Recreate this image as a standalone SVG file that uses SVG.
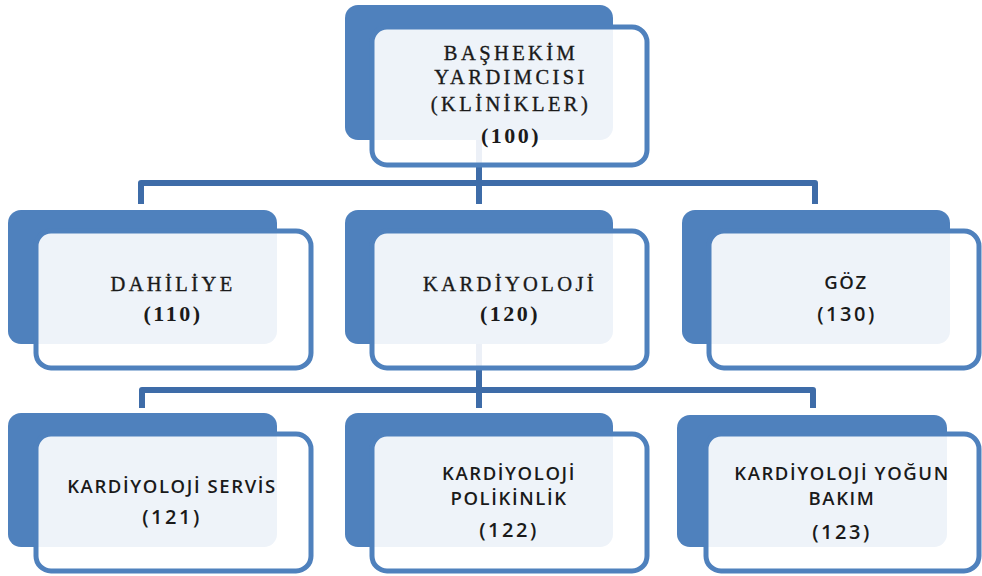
<svg xmlns="http://www.w3.org/2000/svg" width="982" height="576" viewBox="0 0 982 576">
  <style>
    .back { fill: #4f81bd; }
    .front { fill: #ffffff; fill-opacity: 0.9; stroke: #4f81bd; stroke-width: 5; }
    .conn { fill: none; stroke: #3e6ca8; stroke-width: 6; stroke-linejoin: round; }
    .serif { font-family: "Liberation Serif", "Times New Roman", serif; font-size: 20.5px; letter-spacing: 3.4px; fill: #1a1a1a; stroke: #1a1a1a; stroke-width: 0.35; text-anchor: middle; }
    .num { font-family: "Liberation Serif", "Times New Roman", serif; font-size: 22px; font-weight: bold; letter-spacing: 2.5px; fill: #1a1a1a; text-anchor: middle; }
    .sans { font-family: "Open Sans", "Liberation Sans", sans-serif; font-size: 18.5px; font-weight: 600; letter-spacing: 1.6px; fill: #1a1a1a; text-anchor: middle; }
    .snum { font-family: "Open Sans", "Liberation Sans", sans-serif; font-size: 20px; font-weight: 600; letter-spacing: 2.5px; fill: #1a1a1a; text-anchor: middle; }
  </style>

  <!-- connectors (drawn first so the translucent front cards soften them) -->
  <g id="connectors">
    <path class="conn" d="M479,139 V183"/>
    <path class="conn" d="M141,204 V183 H815 V204"/>
    <path class="conn" d="M479,183 V204"/>
    <path class="conn" d="M479,343 V390"/>
    <path class="conn" d="M142,408 V390 H813 V408"/>
    <path class="conn" d="M479,390 V408"/>
  </g>

  <g id="n100">
    <rect class="back" x="345" y="5" width="268" height="135" rx="13"/>
    <rect class="front" x="372" y="27" width="275" height="138" rx="15"/>
    <text class="serif" x="511" y="60">BAŞHEKİM</text>
    <text class="serif" x="511" y="84">YARDIMCISI</text>
    <text class="serif" x="511" y="111">(KLİNİKLER)</text>
    <text class="num" x="511" y="143">(100)</text>
  </g>

  <g id="n110">
    <rect class="back" x="8" y="210" width="269" height="134" rx="13"/>
    <rect class="front" x="36" y="231" width="275" height="137" rx="15"/>
    <text class="serif" x="173" y="291">DAHİLİYE</text>
    <text class="num" x="173" y="321">(110)</text>
  </g>

  <g id="n120">
    <rect class="back" x="345" y="210" width="268" height="134" rx="13"/>
    <rect class="front" x="372" y="231" width="275" height="137" rx="15"/>
    <text class="serif" x="510" y="291">KARDİYOLOJİ</text>
    <text class="num" x="510" y="321">(120)</text>
  </g>

  <g id="n130">
    <rect class="back" x="682" y="210" width="268" height="134" rx="13"/>
    <rect class="front" x="709" y="231" width="270" height="137" rx="15"/>
    <text class="sans" x="846" y="289">GÖZ</text>
    <text class="snum" x="847" y="321">(130)</text>
  </g>

  <g id="n121">
    <rect class="back" x="8" y="413" width="269" height="134" rx="13"/>
    <rect class="front" x="36" y="434" width="275" height="137" rx="15"/>
    <text class="sans" x="172" y="493">KARDİYOLOJİ SERVİS</text>
    <text class="snum" x="172" y="524">(121)</text>
  </g>

  <g id="n122">
    <rect class="back" x="345" y="413" width="268" height="134" rx="13"/>
    <rect class="front" x="372" y="434" width="275" height="137" rx="15"/>
    <text class="sans" x="509" y="480">KARDİYOLOJİ</text>
    <text class="sans" x="509" y="505">POLİKİNLİK</text>
    <text class="snum" x="509" y="537">(122)</text>
  </g>

  <g id="n123">
    <rect class="back" x="677" y="415" width="270" height="132" rx="13"/>
    <rect class="front" x="706" y="434" width="273" height="137" rx="15"/>
    <text class="sans" x="842" y="480">KARDİYOLOJİ YOĞUN</text>
    <text class="sans" x="842" y="505">BAKIM</text>
    <text class="snum" x="842" y="539">(123)</text>
  </g>
</svg>
